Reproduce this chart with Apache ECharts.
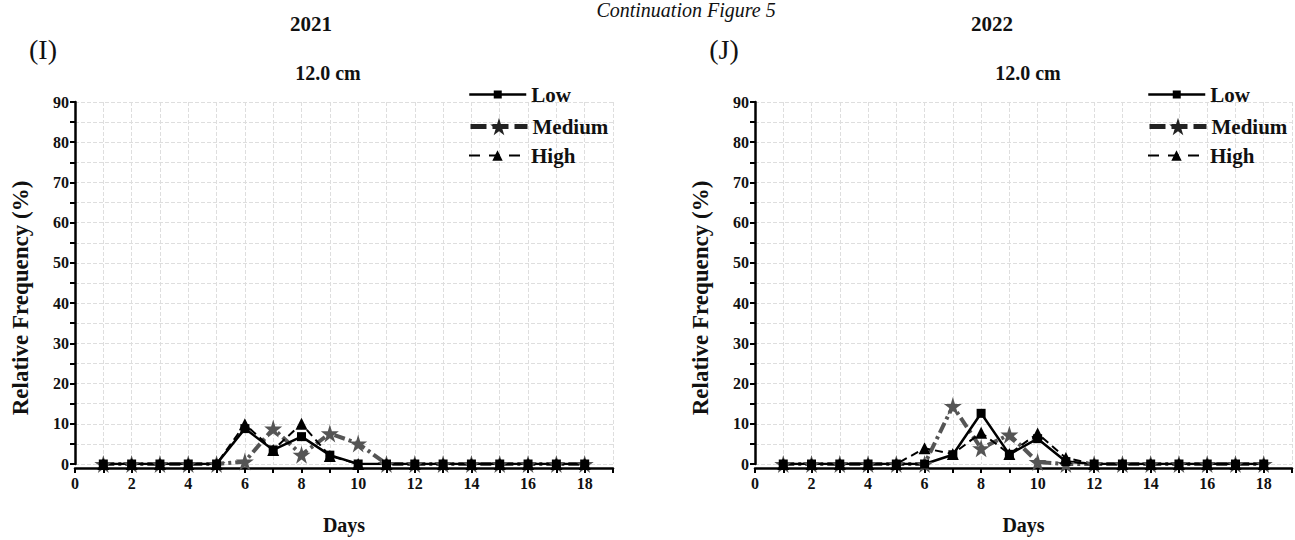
<!DOCTYPE html>
<html lang="en">
<head>
    <meta charset="UTF-8">
    <title>Continuation Figure 5</title>
    <style>
        html, body {margin: 0; padding: 0; background: #fff;}
        #main {width: 1295px; height: 540px;}
    </style>
    <script type="text/javascript" src="https://cdn.jsdelivr.net/npm/echarts@6/dist/echarts.min.js"></script>
</head>
<body>
    <div id="main"></div>
    <script>
        var days = [1, 2, 3, 4, 5, 6, 7, 8, 9, 10, 11, 12, 13, 14, 15, 16, 17, 18]
        var yTicks = [0, 10, 20, 30, 40, 50, 60, 70, 80, 90]

        // 2021 (I)
        var low2021    = [0, 0, 0, 0, 0, 8.8, 3.5, 6.8, 2.2, 0, 0, 0, 0, 0, 0, 0, 0, 0]
        var medium2021 = [0, 0, 0, 0, 0, 0.6, 8.8, 2.3, 7.6, 5.1, 0, 0, 0, 0, 0, 0, 0, 0]
        var high2021   = [0, 0, 0, 0, 0, 9.9, 3.5, 10, 2, 0, 0, 0, 0, 0, 0, 0, 0, 0]

        // 2022 (J)
        var low2022    = [0, 0, 0, 0, 0, 0, 2.3, 12.6, 2.4, 6.3, 0.6, 0, 0, 0, 0, 0, 0, 0]
        var medium2022 = [0, 0, 0, 0, 0, 0, 14.4, 3.9, 7.3, 0.5, 0, 0, 0, 0, 0, 0, 0, 0]
        var high2022   = [0, 0, 0, 0, 0, 3.9, 2.5, 7.8, 2.5, 7.6, 1.5, 0, 0, 0, 0, 0, 0, 0]

        var serif = "'Liberation Serif', 'DejaVu Serif', serif"
        var star = 'path://M50,0 L61,35 L98,35 L68,57 L79,91 L50,70 L21,91 L32,57 L2,35 L39,35 Z'

        function pairs(vals){
            return days.map(function(d, i){ return [d, vals[i]] })
        }

        function xAxisOf(idx){
            return {
                gridIndex: idx,
                type: 'value',
                min: 0,
                max: 19,
                interval: 2,
                offset: 4,
                name: 'Days',
                nameLocation: 'middle',
                nameGap: 47,
                nameTextStyle: {fontFamily: serif, fontWeight: 'bold', fontSize: 20, color: '#111'},
                axisLine: {show: true, onZero: false, lineStyle: {color: '#000', width: 2.5}},
                axisTick: {show: true, inside: false, length: 5, lineStyle: {color: '#000', width: 2}},
                minorTick: {show: true, splitNumber: 2, length: 5, lineStyle: {color: '#000', width: 2}},
                axisLabel: {
                    fontFamily: serif, fontWeight: 'bold', fontSize: 16, color: '#111', margin: 7,
                    showMaxLabel: false,
                    formatter: function(v){ return v > 18 ? '' : v }
                },
                splitLine: {show: true, lineStyle: {color: '#dedede', width: 1, type: 'dashed'}},
                minorSplitLine: {show: true, lineStyle: {color: '#dedede', width: 1, type: 'dashed'}}
            }
        }

        function yAxisOf(idx){
            return {
                gridIndex: idx,
                type: 'value',
                min: yTicks[0],
                max: yTicks[yTicks.length - 1],
                interval: yTicks[1] - yTicks[0],
                name: 'Relative Frequency (%)',
                nameLocation: 'middle',
                nameGap: 43,
                nameTextStyle: {fontFamily: serif, fontWeight: 'bold', fontSize: 23, color: '#111', padding: [0, 30, 0, 0]},
                axisLine: {show: true, lineStyle: {color: '#000', width: 2.5}},
                axisTick: {show: true, inside: false, length: 5, lineStyle: {color: '#000', width: 2}},
                minorTick: {show: true, splitNumber: 2, length: 5, lineStyle: {color: '#000', width: 2}},
                axisLabel: {fontFamily: serif, fontWeight: 'bold', fontSize: 16, color: '#111', margin: 6},
                splitLine: {show: true, lineStyle: {color: '#dedede', width: 1, type: 'dashed'}},
                minorSplitLine: {show: true, lineStyle: {color: '#dedede', width: 1, type: 'dashed'}}
            }
        }

        function seriesOf(idx, low, medium, high){
            return [{
                name: 'Medium',
                type: 'line',
                xAxisIndex: idx,
                yAxisIndex: idx,
                symbol: star,
                symbolSize: 18,
                itemStyle: {color: '#555555'},
                lineStyle: {color: '#555555', width: 4, type: [11, 4, 3, 4]},
                data: pairs(medium)
            }, {
                name: 'High',
                type: 'line',
                xAxisIndex: idx,
                yAxisIndex: idx,
                symbol: 'triangle',
                symbolSize: 12,
                itemStyle: {color: '#000'},
                lineStyle: {color: '#000', width: 2, type: [8, 5]},
                data: pairs(high)
            }, {
                name: 'Low',
                type: 'line',
                xAxisIndex: idx,
                yAxisIndex: idx,
                symbol: 'rect',
                symbolSize: 9,
                itemStyle: {color: '#000'},
                lineStyle: {color: '#000', width: 2.5},
                data: pairs(low)
            }]
        }

        // one legend per row so each row can carry its own symbol size
        function legendRow(name, left, centerY, iconH, lineStyle, color){
            return {
                orient: 'vertical',
                left: left,
                top: centerY - Math.max(iconH, 22) / 2,
                itemWidth: 57,
                itemHeight: iconH,
                padding: 0,
                data: [{name: name, lineStyle: lineStyle, itemStyle: {color: color}}],
                textStyle: {fontFamily: serif, fontWeight: 'bold', fontSize: 21, color: '#111'}
            }
        }

        function legendOf(left){
            return [
                legendRow('Low', left, 95, 10, {width: 2.5, color: '#000'}, '#000'),
                legendRow('Medium', left, 127, 22, {width: 5, color: '#222', type: [16, 6]}, '#222'),
                legendRow('High', left, 156, 13, {width: 2, color: '#000', type: [11, 9]}, '#000')
            ]
        }

        function label(text, x, y, size, weight, style){
            return {
                type: 'text',
                x: x,
                y: y,
                style: {
                    text: text,
                    fill: '#111',
                    fontFamily: serif,
                    fontSize: size,
                    fontWeight: weight || 'normal',
                    fontStyle: style || 'normal',
                    align: 'center',
                    verticalAlign: 'middle'
                }
            }
        }

        var myChart = echarts.init(document.getElementById('main'), null, {renderer: 'svg'})
        myChart.setOption({
            animation: false,
            grid: [
                {left: 75, right: 682, top: 102, bottom: 68, containLabel: false},
                {left: 755, right: 3, top: 102, bottom: 68, containLabel: false}
            ],
            xAxis: [xAxisOf(0), xAxisOf(1)],
            yAxis: [yAxisOf(0), yAxisOf(1)],
            legend: legendOf(468).concat(legendOf(1147)),
            series: seriesOf(0, low2021, medium2021, high2021).concat(seriesOf(1, low2022, medium2022, high2022)),
            graphic: [
                label('Continuation Figure 5', 686, 10, 20, 'normal', 'italic'),
                label('2021', 311, 24, 21, 'bold'),
                label('2022', 992, 24, 21, 'bold'),
                label('(I)', 43, 49, 28),
                label('(J)', 724, 49, 28),
                label('12.0 cm', 328, 73, 20, 'bold'),
                label('12.0 cm', 1028, 73, 20, 'bold')
            ]
        })
    </script>
</body>
</html>
